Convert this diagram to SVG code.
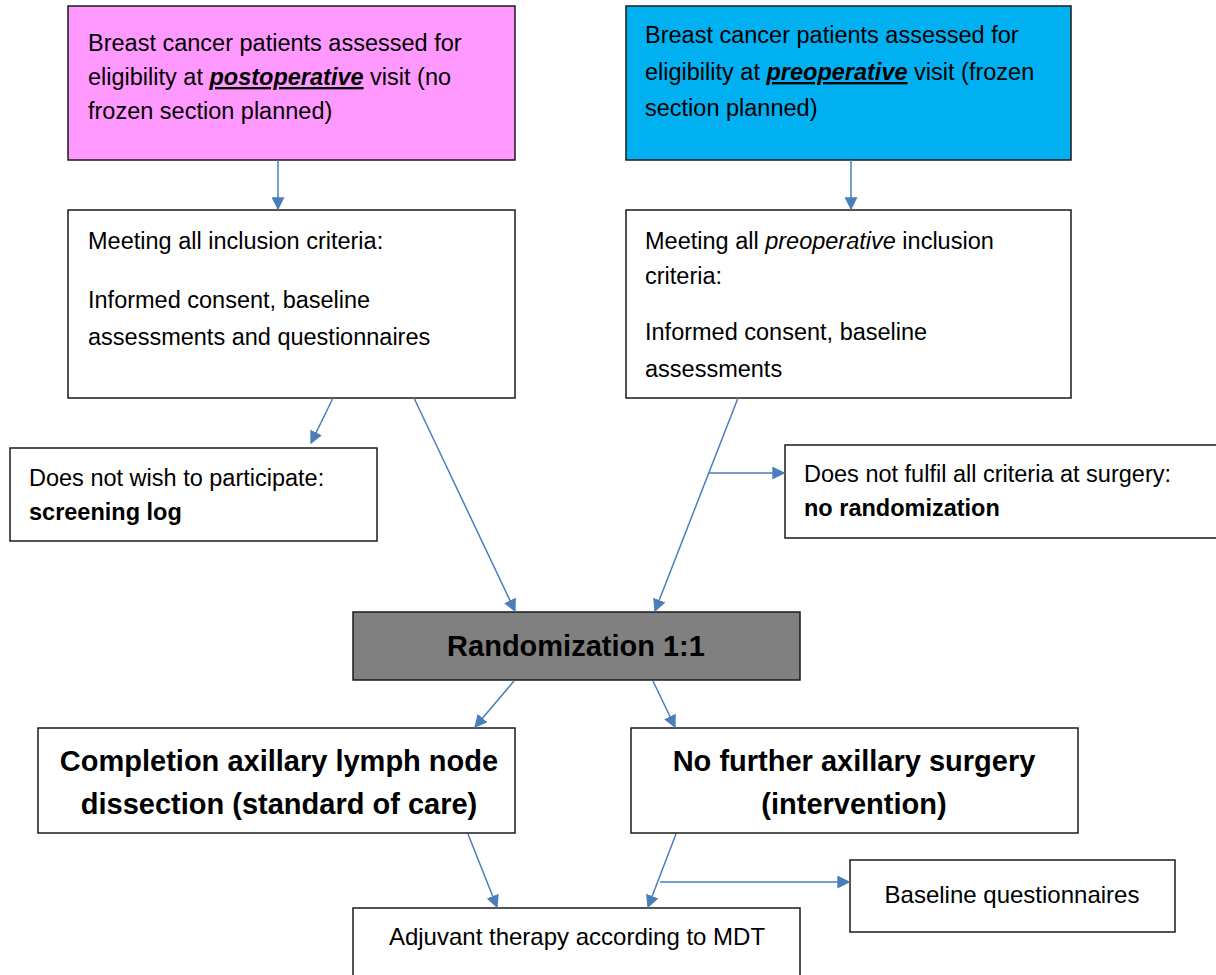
<svg xmlns="http://www.w3.org/2000/svg" width="1216" height="975" viewBox="0 0 1216 975">
<style>
.box{stroke:#1a1a1a;stroke-width:1.5;fill:#fff}
text{font-family:"Liberation Sans",Arial,sans-serif;fill:#000}
.t{font-size:23.5px}
.b{font-weight:bold}
.big{font-size:29px;font-weight:bold}
.c{text-anchor:middle}
.n{font-size:24px}
.con line{stroke:#4A7EBB;stroke-width:1.5}
</style>
<defs>
<marker id="ah" viewBox="0 0 10 10" refX="9" refY="5" markerWidth="13" markerHeight="13" markerUnits="userSpaceOnUse" orient="auto"><path d="M0,0 L10,5 L0,10 z" fill="#4A7EBB"/></marker>
</defs>
<g id="n1"><rect class="box" x="68" y="6" width="447" height="154" style="fill:#FF99FF"/>
<text class="t" x="88" y="51">Breast cancer patients assessed for</text>
<text class="t" x="88" y="85">eligibility at <tspan font-weight="bold" font-style="italic" text-decoration="underline">postoperative</tspan> visit (no</text>
<text class="t" x="88" y="119">frozen section planned)</text></g>
<g id="n2"><rect class="box" x="626" y="6" width="445" height="154" style="fill:#00B0F0"/>
<text class="t" x="645" y="43">Breast cancer patients assessed for</text>
<text class="t" x="645" y="80">eligibility at <tspan font-weight="bold" font-style="italic" text-decoration="underline">preoperative</tspan> visit (frozen</text>
<text class="t" x="645" y="116">section planned)</text></g>
<g id="n3"><rect class="box" x="68" y="210" width="447" height="188"/>
<text class="t" x="88" y="249">Meeting all inclusion criteria:</text>
<text class="t" x="88" y="308">Informed consent, baseline</text>
<text class="t" x="88" y="345">assessments and questionnaires</text></g>
<g id="n4"><rect class="box" x="626" y="210" width="445" height="188"/>
<text class="t" x="645" y="249">Meeting all <tspan font-style="italic">preoperative</tspan> inclusion</text>
<text class="t" x="645" y="284">criteria:</text>
<text class="t" x="645" y="340">Informed consent, baseline</text>
<text class="t" x="645" y="377">assessments</text></g>
<g id="n5"><rect class="box" x="10" y="448" width="367" height="93"/>
<text class="t" x="29" y="486">Does not wish to participate:</text>
<text class="t b" x="29" y="520">screening log</text></g>
<g id="n6"><rect class="box" x="785" y="445" width="440" height="93"/>
<text class="t" x="804" y="482">Does not fulfil all criteria at surgery:</text>
<text class="t b" x="804" y="516">no randomization</text></g>
<g id="n7"><rect class="box" x="353" y="612" width="447" height="68" style="fill:#808080"/>
<text class="c b" x="576" y="656" font-size="29">Randomization 1:1</text></g>
<g id="n8"><rect class="box" x="38" y="728" width="477" height="105"/>
<text class="big c" x="279" y="771">Completion axillary lymph node</text>
<text class="big c" x="279" y="814">dissection (standard of care)</text></g>
<g id="n9"><rect class="box" x="631" y="728" width="447" height="105"/>
<text class="big c" x="854" y="771">No further axillary surgery</text>
<text class="big c" x="854" y="814">(intervention)</text></g>
<g id="n10"><rect class="box" x="353" y="908" width="447" height="80"/>
<text class="n c" x="577" y="945">Adjuvant therapy according to MDT</text></g>
<g id="n11"><rect class="box" x="850" y="860" width="325" height="72"/>
<text class="n c" x="1012" y="903">Baseline questionnaires</text></g>
<g class="con" id="connectors">
<line x1="278" y1="160" x2="278" y2="209" marker-end="url(#ah)"/>
<line x1="851" y1="160" x2="851" y2="209" marker-end="url(#ah)"/>
<line x1="333" y1="398" x2="311" y2="443" marker-end="url(#ah)"/>
<line x1="414" y1="398" x2="515" y2="611" marker-end="url(#ah)"/>
<line x1="738" y1="398" x2="655" y2="611" marker-end="url(#ah)"/>
<line x1="708" y1="473" x2="784" y2="473" marker-end="url(#ah)"/>
<line x1="514" y1="681" x2="475" y2="727" marker-end="url(#ah)"/>
<line x1="653" y1="681" x2="675" y2="727" marker-end="url(#ah)"/>
<line x1="468" y1="834" x2="497" y2="907" marker-end="url(#ah)"/>
<line x1="676" y1="834" x2="648" y2="907" marker-end="url(#ah)"/>
<line x1="660" y1="882" x2="849" y2="882" marker-end="url(#ah)"/>
</g>
</svg>
